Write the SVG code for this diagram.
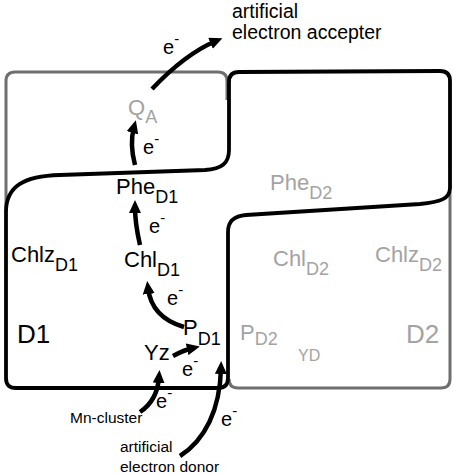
<svg xmlns="http://www.w3.org/2000/svg" width="454" height="475" viewBox="0 0 454 475">
<style>
text{font-family:"Liberation Sans",Arial,sans-serif;fill:#000}
.g{fill:#a3a3a3}
.lbl{font-size:22px}
.sub{font-size:18px}
.big{font-size:26px}
.e{font-size:20px}
.sm{font-size:15.5px}
.arr{fill:none;stroke:#000;stroke-width:4.5;marker-end:url(#ah)}
.gbox{fill:none;stroke:#6f6f6f;stroke-width:3}
.bbox{fill:none;stroke:#000;stroke-width:3.8;stroke-linejoin:round}
</style>
<defs>
<marker id="ah" markerUnits="userSpaceOnUse" markerWidth="13" markerHeight="12" refX="6" refY="6" orient="auto" viewBox="0 0 13 12">
<path d="M0,0 L13,6 L0,12 z" fill="#000"/>
</marker>
</defs>
<g id="D2-outline">
<path class="gbox" d="M6,212 L6,81 Q6,72 15,72 L218,72 Q227,72 227,81 L227,100"/>
<path class="gbox" d="M450,192 L450,379 Q450,388 441,388 L238,388 Q229,388 229,379"/>
</g>
<g id="D1-outline">
<path class="bbox" d="M6,212 C6,186 24,176 60,175 L205,170 C222,169 229,163 229,150 L229,82 Q229,72 239,72 L440,71 Q450,71 450,81 L450,188 C450,199 440,202 420,204 L246,215 C234,216 228,221 228,232 L228,378 Q228,388 218,388 L16,388 Q6,388 6,378 Z"/>
</g>
<g id="connectors">
<path class="arr" d="M152,89 C170,70 190,52 216,41"/>
<path class="arr" d="M135,165 C131,150 131,138 134,127"/>
<path class="arr" d="M140,245 C137,232 135,220 135,207"/>
<path class="arr" d="M184,327 C160,320 150,305 148,288"/>
<path class="arr" d="M173,356 Q184,350 193,348"/>
<path class="arr" d="M140,412 C152,404 158,392 159,377"/>
<path class="arr" d="M180,456 C205,440 220,410 221,368"/>
</g>
<g id="acceptor"><text x="232" y="18" style="font-size:19.5px">artificial</text><text x="232" y="39" style="font-size:19.5px">electron accepter</text></g>
<g id="e1"><text class="e" x="163" y="54">e<tspan dy="-10" font-size="15">-</tspan></text></g>
<g id="QA"><text class="lbl g" x="128" y="115">Q<tspan class="sub" dy="8">A</tspan></text></g>
<g id="e2"><text class="e" x="143" y="154">e<tspan dy="-10" font-size="15">-</tspan></text></g>
<g id="PheD1"><text class="lbl" x="116" y="194">Phe<tspan class="sub" dy="9">D1</tspan></text></g>
<g id="PheD2"><text class="lbl g" x="270" y="190">Phe<tspan class="sub" dy="9">D2</tspan></text></g>
<g id="e3"><text class="e" x="149" y="233">e<tspan dy="-10" font-size="15">-</tspan></text></g>
<g id="ChlzD1"><text class="lbl" x="11" y="262">Chlz<tspan class="sub" dy="9">D1</tspan></text></g>
<g id="ChlD1"><text class="lbl" x="124" y="267">Chl<tspan class="sub" dy="9">D1</tspan></text></g>
<g id="ChlD2"><text class="lbl g" x="273" y="266">Chl<tspan class="sub" dy="9">D2</tspan></text></g>
<g id="ChlzD2"><text class="lbl g" x="375" y="262">Chlz<tspan class="sub" dy="9">D2</tspan></text></g>
<g id="e4"><text class="e" x="167" y="305">e<tspan dy="-10" font-size="15">-</tspan></text></g>
<g id="D1"><text class="big" x="17" y="343">D1</text></g>
<g id="PD1"><text class="lbl" x="183" y="335">P<tspan class="sub" dy="10">D1</tspan></text></g>
<g id="PD2"><text class="lbl g" x="240" y="340">P<tspan class="sub" dy="5">D2</tspan></text></g>
<g id="YD"><text class="g" x="298" y="361" style="font-size:16px">YD</text></g>
<g id="D2"><text class="big g" x="406" y="343">D2</text></g>
<g id="Yz"><text class="lbl" x="144" y="360">Yz</text></g>
<g id="e5"><text class="e" x="182" y="376">e<tspan dy="-10" font-size="15">-</tspan></text></g>
<g id="e6"><text class="e" x="156" y="408">e<tspan dy="-10" font-size="15">-</tspan></text></g>
<g id="Mn"><text class="sm" x="70" y="423">Mn-cluster</text></g>
<g id="e7"><text class="e" x="221" y="426">e<tspan dy="-10" font-size="15">-</tspan></text></g>
<g id="donor"><text class="sm" x="120" y="452">artificial</text><text class="sm" x="120" y="472">electron donor</text></g>
</svg>
